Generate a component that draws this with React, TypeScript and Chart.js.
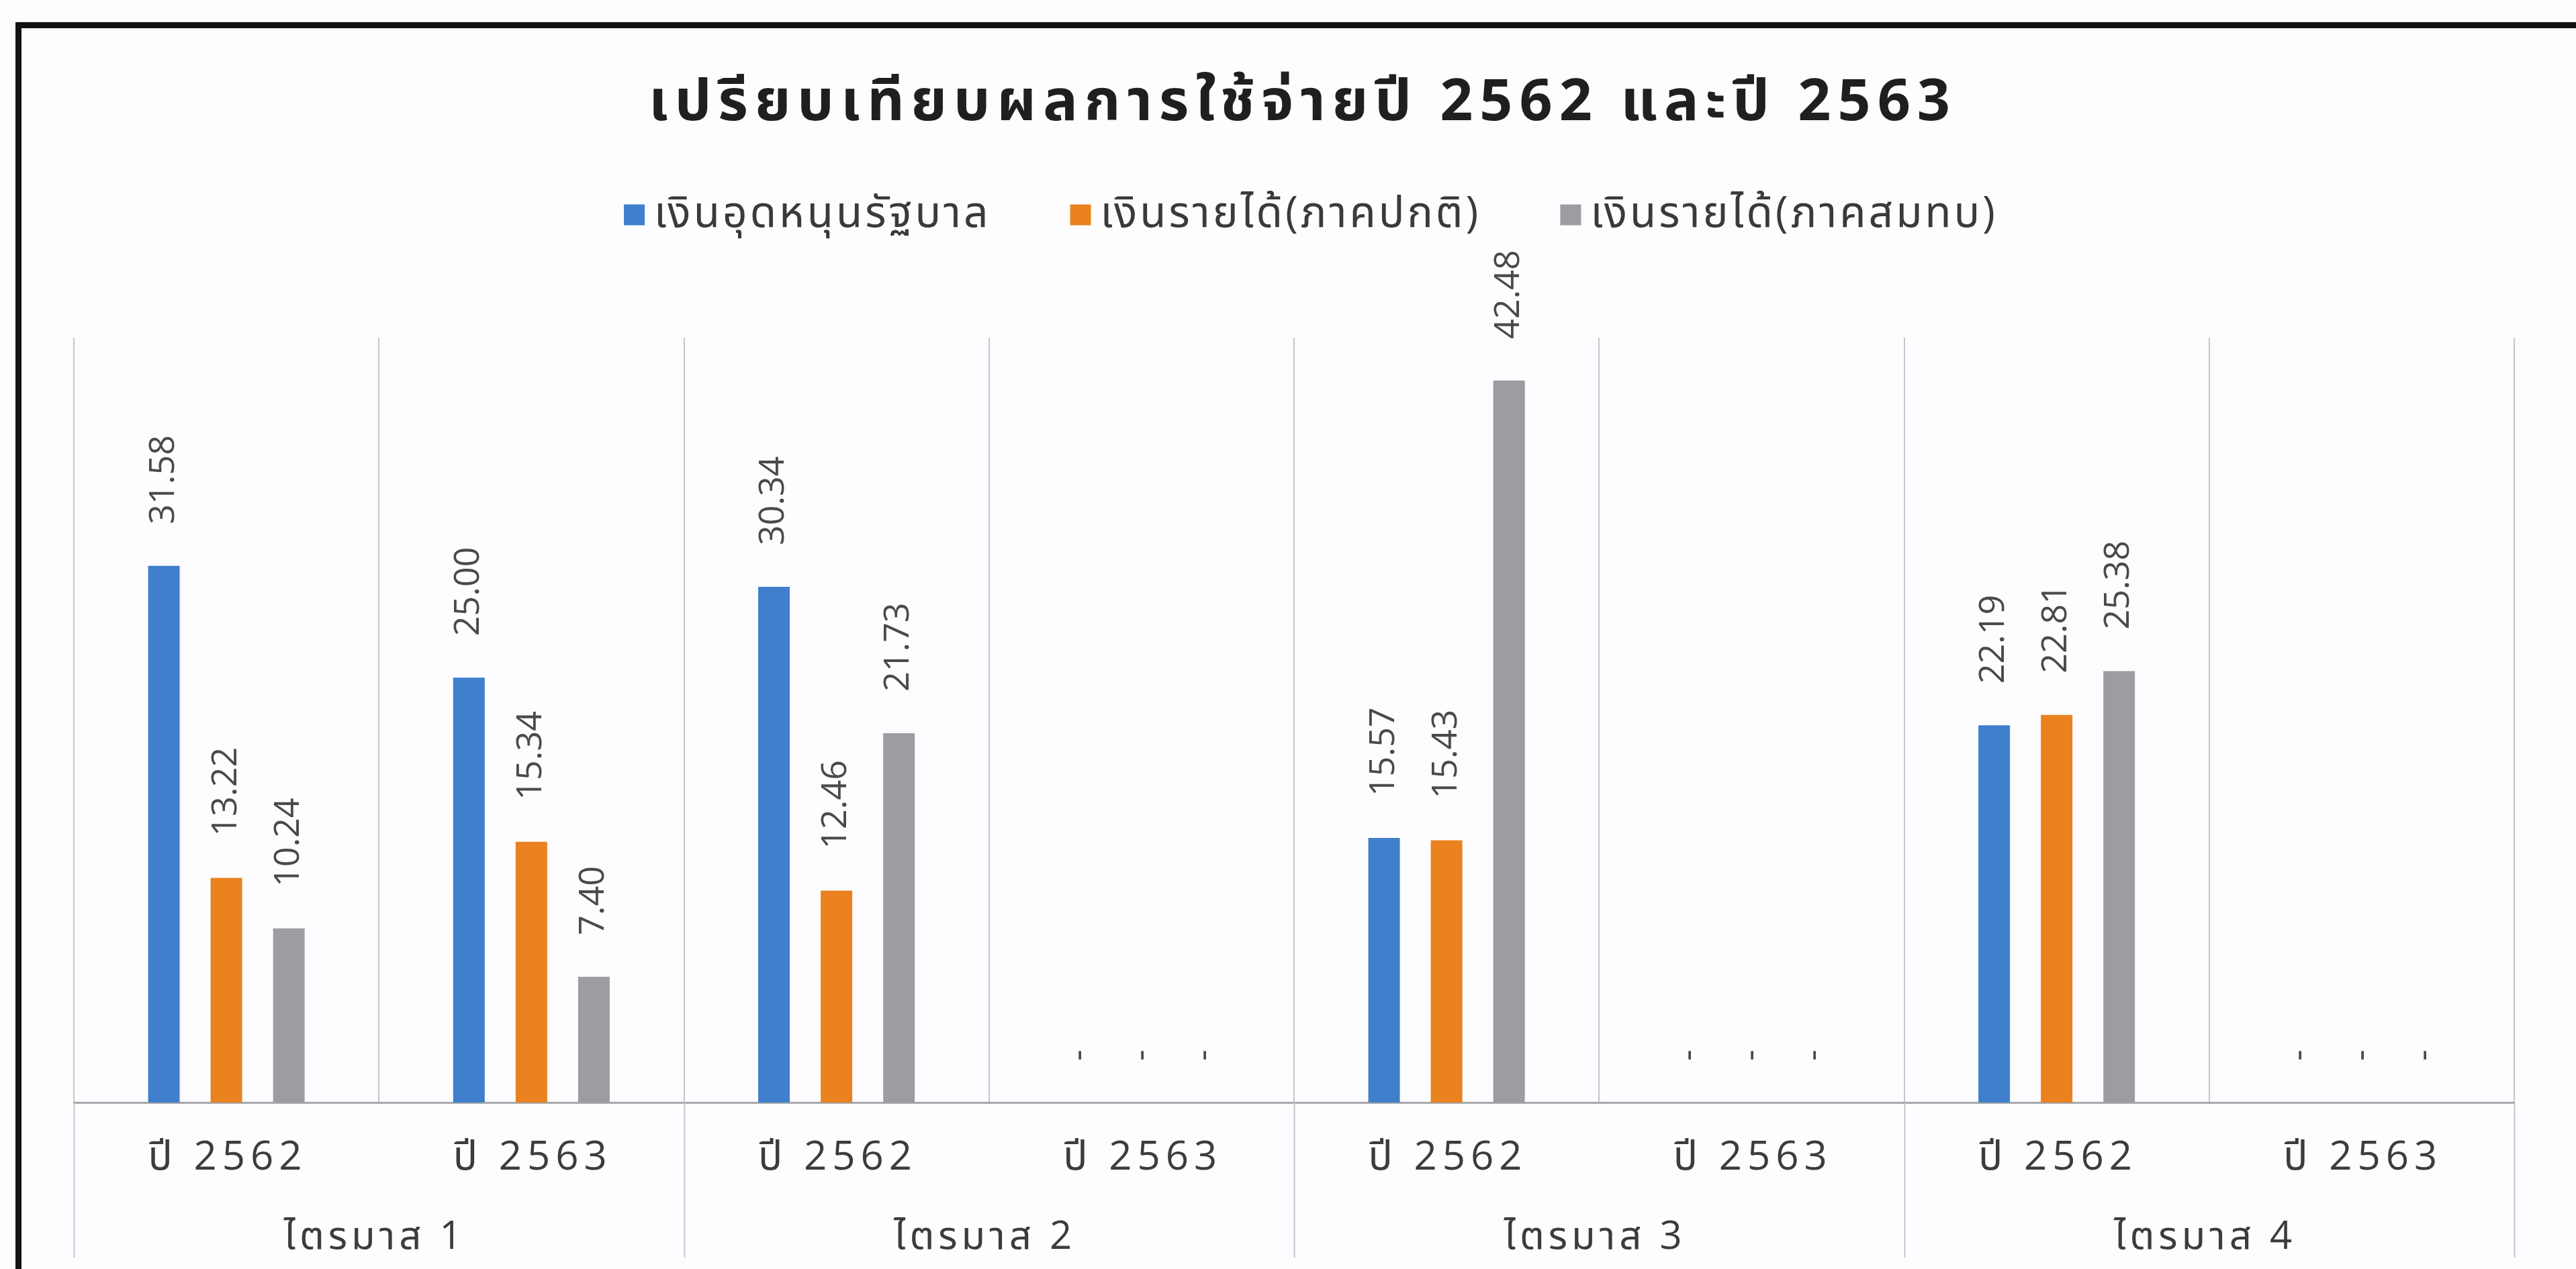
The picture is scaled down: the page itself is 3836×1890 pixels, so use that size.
import React, { useEffect, useRef } from 'react';
import { Chart, registerables } from 'chart.js';

Chart.register(...registerables);

// ---------- data ----------
const categories = ['ปี 2562', 'ปี 2563', 'ปี 2562', 'ปี 2563', 'ปี 2562', 'ปี 2563', 'ปี 2562', 'ปี 2563'];
const quarters = ['ไตรมาส 1', 'ไตรมาส 2', 'ไตรมาส 3', 'ไตรมาส 4'];
const seriesNames = ['เงินอุดหนุนรัฐบาล', 'เงินรายได้(ภาคปกติ)', 'เงินรายได้(ภาคสมทบ)'];
const subsidy = [31.58, 25.0, 30.34, 0, 15.57, 0, 22.19, 0];
const regularIncome = [13.22, 15.34, 12.46, 0, 15.43, 0, 22.81, 0];
const specialIncome = [10.24, 7.4, 21.73, 0, 42.48, 0, 25.38, 0];
const seriesColors = ['#3F7FCC', '#E9821F', '#9C9CA1'];
const chartTitle = 'เปรียบเทียบผลการใช้จ่ายปี 2562 และปี 2563';
const yMin = 0;
const yMax = 45;

// ---------- style ----------
const W = 3836;
const H = 1890;
const THAI = '"Open Sans", "Noto Sans Thai", "Noto Sans", "DejaVu Sans", Tahoma, sans-serif';
const GRID = '#C6C6CB';

const decorPlugin = {
  id: 'decor',
  beforeDraw(chart: any) {
    const ctx = chart.ctx as CanvasRenderingContext2D;
    ctx.save();
    ctx.fillStyle = '#FDFCFE';
    ctx.fillRect(0, 0, chart.width, chart.height);
    ctx.fillStyle = '#121212';
    ctx.fillRect(23, 33, chart.width - 23, 9);
    ctx.fillRect(23, 33, 9, chart.height - 33);
    ctx.restore();
  },
  afterDraw(chart: any) {
    const ctx = chart.ctx as any;
    const xs = chart.scales.x;
    const area = chart.chartArea;
    const step = xs.getPixelForValue(1) - xs.getPixelForValue(0);

    // title
    ctx.save();
    ctx.fillStyle = '#1F1F1F';
    ctx.font = `bold 86px ${THAI}`;
    ctx.letterSpacing = '10px';
    ctx.textAlign = 'center';
    ctx.textBaseline = 'middle';
    ctx.fillText(chartTitle, 1940, 154);
    ctx.restore();

    // legend
    ctx.save();
    ctx.font = `64px ${THAI}`;
    ctx.letterSpacing = '4px';
    ctx.textBaseline = 'middle';
    ctx.textAlign = 'left';
    const sq = 31;
    const gapSqText = 14;
    const gapItems = 118;
    const widths = seriesNames.map((n) => ctx.measureText(n).width);
    const total = widths.reduce((a: number, w: number) => a + sq + gapSqText + w, 0) + gapItems * (seriesNames.length - 1);
    let lx = 1952 - total / 2;
    const ly = 320;
    seriesNames.forEach((n, i) => {
      ctx.fillStyle = seriesColors[i];
      ctx.fillRect(lx, ly - sq / 2, sq, sq);
      ctx.fillStyle = '#3A3A3A';
      ctx.fillText(n, lx + sq + gapSqText, ly);
      lx += sq + gapSqText + widths[i] + gapItems;
    });
    ctx.restore();

    // quarter separators extending below the axis
    ctx.save();
    ctx.strokeStyle = GRID;
    ctx.lineWidth = 2;
    for (let k = 0; k <= categories.length; k += 2) {
      const bx = k < categories.length ? xs.getPixelForValue(k) - step / 2 : xs.getPixelForValue(k - 1) + step / 2;
      ctx.beginPath();
      ctx.moveTo(Math.round(bx) + 0.5, area.bottom);
      ctx.lineTo(Math.round(bx) + 0.5, 1873);
      ctx.stroke();
    }
    ctx.restore();

    // category labels
    ctx.save();
    ctx.fillStyle = '#3C3C3C';
    ctx.font = `60px ${THAI}`;
    ctx.letterSpacing = '8px';
    ctx.textAlign = 'center';
    ctx.textBaseline = 'middle';
    categories.forEach((c, i) => {
      ctx.fillText(c, xs.getPixelForValue(i) + 2, 1725);
    });
    ctx.font = `58px ${THAI}`;
    ctx.letterSpacing = '6px';
    quarters.forEach((q, i) => {
      const cx = (xs.getPixelForValue(2 * i) + xs.getPixelForValue(2 * i + 1)) / 2;
      ctx.fillText(q, cx - 6, 1843);
    });
    ctx.restore();

    // data labels (rotated)
    ctx.save();
    ctx.fillStyle = '#4A4A4A';
    ctx.font = `52px "Open Sans", sans-serif`;
    ctx.textAlign = 'left';
    ctx.textBaseline = 'middle';
    chart.data.datasets.forEach((ds: any, di: number) => {
      const meta = chart.getDatasetMeta(di);
      meta.data.forEach((el: any, i: number) => {
        const v = ds.data[i];
        const txt = v === 0 ? '-' : v.toFixed(2);
        ctx.save();
        ctx.translate(el.x, el.y - 62);
        ctx.rotate(-Math.PI / 2);
        ctx.fillText(txt, 0, 0);
        ctx.restore();
      });
    });
    ctx.restore();
  },
};

export default function App() {
  const ref = useRef<HTMLCanvasElement | null>(null);
  useEffect(() => {
    if (!ref.current) return;
    const chart = new Chart(ref.current, {
      type: 'bar',
      data: {
        labels: categories,
        datasets: [
          { label: seriesNames[0], data: subsidy, backgroundColor: seriesColors[0] },
          { label: seriesNames[1], data: regularIncome, backgroundColor: seriesColors[1] },
          { label: seriesNames[2], data: specialIncome, backgroundColor: seriesColors[2] },
        ],
      },
      options: {
        responsive: false,
        animation: false,
        devicePixelRatio: 1,
        layout: { padding: { left: 110, right: 92, top: 503, bottom: 248 } },
        datasets: { bar: { categoryPercentage: 0.6145, barPercentage: 0.505 } },
        plugins: { legend: { display: false }, title: { display: false }, tooltip: { enabled: false } },
        scales: {
          x: {
            grid: { offset: true, color: GRID, lineWidth: 2, drawTicks: false },
            border: { display: true, color: '#A8A8AD', width: 3 },
            ticks: { display: false },
          },
          y: { display: false, min: yMin, max: yMax },
        },
      } as any,
      plugins: [decorPlugin],
    });
    return () => chart.destroy();
  }, []);
  return (
    <div style={{ position: 'fixed', left: 0, top: 0, width: W, height: H, background: '#FDFCFE' }}>
      <canvas ref={ref} width={W} height={H} style={{ width: W, height: H, display: 'block' }} />
    </div>
  );
}
